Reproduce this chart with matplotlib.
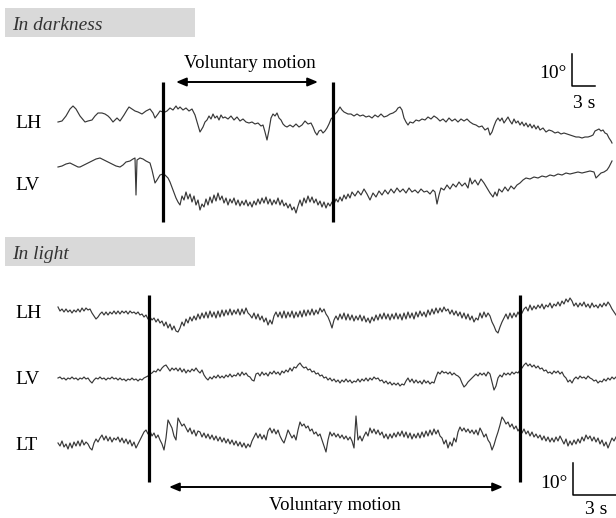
import numpy as np
import matplotlib.pyplot as plt

plt.rcParams['font.family'] = ['Liberation Serif', 'DejaVu Serif']

# ---- data: eye position traces (units: 3 units = 1 deg, time units ~ 0.13 s) ----
# darkness recording, (time, position) pairs, position positive = up
dark_lh = [(0, 0), (4, 1), (8, 6), (12, 13), (15, 16), (18, 13), (22, 6), (27, 0), (30, 1), (34, 2),
           (37, 6), (40, 9), (44, 9), (47, 8), (50, 6), (52, 4), (55, 0), (57, 2), (59, 4), (62, 1),
           (66, 7), (69, 12), (71, 15), (74, 13), (77, 11), (80, 10), (84, 8), (88, 11), (92, 13), (95, 9),
           (97, 4), (100, 8), (102, 11), (105, 10), (107, 10), (109, 11), (112, 14), (115, 12), (118, 16), (120, 13),
           (122, 15), (125, 12), (128, 14), (131, 11), (134, 13), (137, 7), (140, -3), (142, -10), (145, -5), (147, 0),
           (149, 2), (151, 6), (153, 3), (155, 8), (157, 4), (159, 6), (161, 2), (163, 7), (165, 4), (167, 5),
           (170, 3), (173, 6), (176, 2), (179, 5), (182, 1), (185, 3), (188, 0), (191, -1), (194, 0), (197, -2),
           (200, -1), (203, -4), (205, -3), (207, -10), (209, -18), (211, -8), (213, 4), (215, 8), (217, 6), (219, 9),
           (221, 4), (223, 2), (225, -2), (227, -4), (229, -5), (232, -3), (235, -5), (238, -2), (241, -5), (244, -3),
           (247, 1), (250, -2), (253, -1), (255, -5), (257, -10), (259, -13), (261, -9), (263, -8), (265, -11), (267, -9),
           (269, -6), (271, -2), (273, 3), (275, 5), (277, 8), (279, 10), (282, 15), (284, 12), (286, 10), (288, 9),
           (290, 8), (293, 8), (296, 6), (299, 8), (302, 6), (305, 7), (308, 5), (311, 6), (314, 4), (317, 7),
           (320, 5), (323, 8), (326, 5), (329, 6), (332, 8), (335, 9), (338, 11), (340, 14), (342, 15), (344, 12),
           (346, 4), (348, 0), (350, -3), (352, 0), (355, -1), (358, 2), (361, 1), (364, 3), (367, 2), (370, 5),
           (373, 3), (376, 6), (379, 4), (382, 1), (385, 3), (388, 0), (391, 4), (394, 1), (397, 3), (400, 0),
           (403, 3), (406, 1), (409, 3), (412, 0), (415, -2), (418, -3), (421, -5), (424, -4), (427, -8), (430, -6),
           (432, -13), (434, -10), (436, -4), (438, 1), (440, 4), (442, 1), (444, 4), (446, -1), (448, 2), (450, 5),
           (452, 1), (454, -2), (456, 3), (458, -1), (460, 1), (462, -3), (464, 0), (466, -4), (468, -1), (470, -5),
           (472, -2), (474, -6), (476, -3), (478, -7), (480, -4), (482, -8), (485, -6), (488, -10), (491, -8), (494, -9),
           (497, -11), (500, -10), (503, -12), (506, -11), (509, -12), (512, -13), (515, -14), (518, -15), (521, -15), (524, -16),
           (527, -15), (530, -15), (533, -14), (535, -13), (537, -9), (539, -8), (541, -7), (543, -9), (545, -8), (547, -11),
           (549, -12), (551, -16), (553, -19), (554, -21)]

dark_lv = [(0, 0), (4, 1), (8, 3), (12, 4), (16, 2), (20, 0), (22, 0), (26, 2), (30, 4), (34, 6),
           (38, 8), (42, 9), (46, 7), (50, 5), (54, 3), (58, 1), (62, 0), (65, 2), (68, 5), (72, 6),
           (75, 8), (77, 9), (78, -28), (79, 7), (82, 9), (85, 8), (88, 6), (92, 4), (94, -3), (97, -16),
           (99, -13), (102, -8), (105, -7), (107, -8), (110, -11), (112, -15), (115, -23), (118, -31), (120, -35), (122, -38),
           (124, -29), (126, -33), (128, -25), (130, -32), (132, -27), (134, -35), (136, -29), (138, -38), (140, -33), (142, -43),
           (144, -37), (146, -40), (148, -32), (150, -38), (152, -30), (154, -36), (156, -28), (158, -34), (160, -26), (162, -33),
           (164, -29), (166, -36), (168, -31), (170, -38), (172, -32), (174, -36), (176, -31), (178, -38), (180, -33), (182, -39),
           (184, -34), (186, -38), (188, -33), (190, -39), (192, -35), (194, -40), (196, -34), (198, -38), (200, -32), (202, -37),
           (204, -31), (206, -36), (208, -30), (210, -37), (212, -32), (214, -38), (216, -33), (218, -37), (220, -31), (222, -38),
           (224, -33), (226, -39), (228, -36), (230, -41), (232, -37), (234, -43), (236, -40), (238, -46), (240, -39), (242, -33),
           (244, -39), (246, -31), (248, -36), (250, -29), (252, -35), (254, -30), (256, -36), (258, -32), (260, -38), (262, -34),
           (264, -40), (266, -35), (268, -41), (270, -36), (272, -39), (274, -35), (276, -37), (278, -32), (280, -35), (282, -30),
           (284, -34), (286, -28), (288, -32), (290, -27), (292, -31), (294, -25), (297, -29), (300, -24), (303, -28), (306, -22),
           (309, -27), (312, -33), (315, -26), (318, -30), (321, -24), (324, -28), (327, -23), (330, -27), (333, -22), (336, -26),
           (339, -21), (342, -25), (345, -22), (348, -26), (351, -21), (354, -25), (357, -23), (360, -26), (363, -22), (366, -25),
           (369, -24), (372, -27), (375, -23), (377, -25), (379, -37), (381, -28), (383, -21), (386, -23), (389, -18), (392, -22),
           (395, -17), (398, -20), (401, -15), (404, -19), (407, -16), (410, -21), (412, -11), (414, -17), (417, -13), (420, -18),
           (423, -12), (426, -16), (429, -21), (432, -26), (435, -30), (437, -25), (439, -29), (441, -22), (444, -25), (447, -20),
           (450, -24), (453, -19), (456, -22), (459, -18), (462, -16), (465, -13), (468, -11), (472, -12), (476, -10), (480, -11),
           (484, -9), (488, -10), (492, -8), (496, -9), (500, -7), (504, -8), (508, -6), (512, -7), (516, -6), (520, -5),
           (524, -6), (528, -5), (532, -4), (536, -5), (538, -11), (540, -9), (543, -6), (546, -5), (549, -3), (551, 0),
           (553, 4), (554, 6)]

# light recording, one sample every 2 time units
light_lh = [8, 4, 6, 3, 6, 3, 5, 2, 5, 3, 6, 3, 7, 4, 7, 5, 6, 2, -1, -4,
            -2, 1, 3, 0, 3, 0, 3, 1, 4, 1, 4, 1, 4, 2, 4, 1, 4, 2, 3, 1,
            3, 0, 1, -2, 0, -4, -2, -5, -3, -7, -4, -8, -6, -11, -7, -13, -9, -15, -11, -16,
            -17, -13, -7, -11, -4, -8, -2, -6, -1, -5, 1, -4, 2, -3, 3, -3, 4, -2, 3, -3,
            4, -2, 5, -1, 5, 0, 6, 0, 5, 1, 6, 0, 6, 1, 7, 2, 0, -3, 2, -4,
            1, -5, -1, -7, -3, -10, -5, -9, -1, 3, -2, 3, -3, 4, -3, 3, -2, 4, -3, 3,
            -2, 4, -2, 5, -1, 5, 0, 6, 0, 5, 1, 7, 3, 6, 1, -2, -7, -13, -5, -1,
            -5, 1, -4, 2, -5, 1, -5, 0, -6, -1, -5, 0, -6, -1, -7, -3, -8, -2, -6, 0,
            -5, 1, -4, 2, -4, 1, -5, 1, -4, 2, -4, 1, -5, 2, -4, 3, -3, 2, -4, 3,
            -2, 4, -1, 3, -2, 5, 0, 6, 1, 7, 2, 7, 3, 8, 4, 6, 1, 5, 0, 4,
            -1, 3, -3, 2, -4, 1, -5, -1, -7, -3, -5, 2, -3, 3, -2, 2, -1, -7, -11, -16,
            -18, -12, -7, -3, 1, -4, 2, -3, 2, -2, 3, -1, 2, 6, 8, 4, 10, 5, 9, 6,
            10, 7, 11, 6, 10, 8, 12, 7, 11, 9, 13, 9, 14, 11, 16, 13, 17, 14, 9, 12,
            8, 12, 9, 13, 8, 11, 7, 12, 8, 10, 7, 11, 8, 12, 9, 13, 10, 6, 3, 0]

light_lv = [0, 1, -1, 0, -2, 0, -1, 1, -1, 0, -2, 0, -1, 1, -1, 0, -3, -5, -2, 0,
            -1, 1, -1, 0, -2, 0, -1, 1, -1, 0, -2, 0, -2, -1, -3, -1, -2, 0, -2, -1,
            -3, -1, -2, 0, 1, 2, 4, 5, 7, 6, 9, 7, 10, 12, 13, 10, 7, 10, 8, 10,
            7, 10, 6, 9, 5, 8, 6, 9, 7, 10, 7, 5, 8, 3, 0, -2, 1, -1, 2, 0,
            3, 0, 2, 0, 3, 1, 4, 1, 3, 2, 5, 2, 6, 3, 5, 2, 1, -2, -3, 4,
            5, 2, 6, 3, 5, 2, 6, 4, 7, 4, 6, 3, 7, 5, 8, 6, 10, 7, 11, 10,
            13, 15, 12, 10, 11, 8, 9, 6, 7, 4, 5, 2, 3, 0, 1, -2, 0, -3, -1, -4,
            -2, -5, -2, -4, -1, -4, -2, -5, -3, -4, -1, -4, -1, -3, 0, -3, 0, -2, 1, -1,
            0, -3, -2, -5, -3, -6, -4, -7, -5, -7, -5, -8, -6, -7, -3, 0, -4, -1, -5, -2,
            -5, -3, -6, -2, -5, -3, -6, -4, -5, 1, 6, 4, 7, 5, 6, 4, 6, 3, 5, 3,
            2, 0, -5, -9, -7, -4, -2, 0, 2, 4, 2, 5, 3, 5, 2, 6, 4, -4, -12, -8,
            0, 3, 1, 5, 3, 5, 3, 6, 4, 6, 5, 8, 10, 13, 15, 12, 14, 11, 13, 10,
            12, 9, 10, 7, 8, 5, 6, 4, 7, 5, 7, 4, 6, 2, 0, -4, -2, -5, -1, 1,
            -1, 2, 0, 1, -1, 2, 0, -1, -3, -2, -5, -3, -4, -1, -3, 0, -2, 1, -1, 1]

light_lt = [-1, -4, 1, -5, -2, -7, -1, -6, 0, -4, 1, -4, 2, -3, 0, -2, -6, -8, -1, 3,
            0, 4, 7, 2, 6, 1, 5, 0, 4, 2, 5, 0, 4, -1, 3, -2, 2, -4, 0, -6,
            -2, 2, 6, 10, 12, 8, 11, 6, 9, 4, 7, 2, -2, -8, 4, 22, 18, 14, 6, 2,
            24, 20, 16, 18, 14, 10, 14, 8, 12, 6, 11, 10, 5, 9, 4, 8, 3, 7, 2, 6,
            1, 5, 0, 4, -1, 3, -2, 2, -3, 1, -4, 0, -5, -1, -6, -2, -5, 1, 5, 9,
            4, 8, 3, 7, 2, 11, 14, 9, 13, 8, 12, 6, 2, -1, 5, 12, 8, 4, 7, 2,
            12, 20, 16, 18, 14, 16, 11, 13, 8, 10, 6, 8, 2, -4, -10, 2, 10, 6, 9, 5,
            8, 4, 7, 3, 6, 2, 5, 1, -6, 26, 2, 6, 1, 6, 10, 6, 14, 9, 13, 8,
            12, 7, 10, 4, 8, 3, 8, 4, 9, 5, 10, 6, 11, 5, 10, 4, 9, 3, 8, 4,
            9, 4, 10, 5, 11, 6, 12, 7, 13, 8, 12, 6, 4, -2, 2, -6, 0, -4, 4, 0,
            10, 15, 11, 14, 10, 13, 9, 12, 8, 12, 7, 14, 10, 5, 8, 2, -1, -8, -3, 4,
            10, 17, 25, 22, 18, 20, 15, 18, 13, 16, 11, 14, 9, 13, 8, 11, 6, 10, 5, 8,
            4, 7, 2, 6, 1, 5, 0, 4, 0, 5, 1, 6, 2, -2, 3, -4, 1, -3, 2, -2,
            3, -1, 5, 1, 7, 3, 6, 1, 5, 0, 4, -2, 2, -4, 0, -6, -1, 4, 1, 5]

labels_dark = ['LH', 'LV']
labels_light = ['LH', 'LV', 'LT']

# ---- layout (figure pixels) ----
fig = plt.figure(figsize=(6.16, 5.18), dpi=100)
ax = fig.add_axes([0, 0, 1, 1])
ax.set_xlim(0, 616)
ax.set_ylim(518, 0)
ax.axis('off')

trace_kw = dict(color='#383838', lw=0.85)
x0 = 58


def draw_pairs(pairs, base):
    t, v = np.array(pairs, dtype=float).T
    ax.plot(x0 + t, base - v, **trace_kw)


def draw_uniform(vals, base, dt=2):
    v = np.array(vals, dtype=float)
    t = np.arange(len(v)) * dt
    ax.plot(x0 + t, base - v, **trace_kw)


# section headers
for y_top, title in [(8, 'In darkness'), (237, 'In light')]:
    ax.add_patch(plt.Rectangle((5, y_top), 190, 29, color='#d9d9d9', lw=0))
    ax.text(12, y_top + 22, title, fontsize=14, style='italic', color='#333333', va='baseline')

# darkness panel
draw_pairs(dark_lh, 122)
draw_pairs(dark_lv, 167)
for lab, yb in zip(labels_dark, [128, 190]):
    ax.text(15, yb, lab, fontsize=14, va='baseline')
for xv in [163, 333]:
    ax.plot([xv, xv], [82, 222], color='black', lw=2.3, solid_capstyle='butt')
ax.annotate('', xy=(176, 82), xytext=(318, 82),
            arrowprops=dict(arrowstyle='<|-|>,head_length=0.6,head_width=0.25',
                            color='black', lw=1.4, shrinkA=0, shrinkB=0))
ax.text(250, 68, 'Voluntary motion', fontsize=13.5, ha='center', va='baseline')

# light panel
draw_uniform(light_lh, 315)
draw_uniform(light_lv, 378)
draw_uniform(light_lt, 442)
for lab, yb in zip(labels_light, [318, 384, 450]):
    ax.text(15, yb, lab, fontsize=14, va='baseline')
for xv in [149, 520]:
    ax.plot([xv, xv], [295, 482], color='black', lw=2.3, solid_capstyle='butt')
ax.annotate('', xy=(169, 487), xytext=(503, 487),
            arrowprops=dict(arrowstyle='<|-|>,head_length=0.6,head_width=0.25',
                            color='black', lw=1.4, shrinkA=0, shrinkB=0))
ax.text(335, 510, 'Voluntary motion', fontsize=13.5, ha='center', va='baseline')

# scale bars: 10 deg / 3 s
ax.plot([572, 572, 595], [54, 86, 86], color='black', lw=1.1)
ax.text(567, 78, '10°', fontsize=14, ha='right', va='baseline')
ax.text(584, 108, '3 s', fontsize=14, ha='center', va='baseline')

ax.plot([573, 573, 616], [463, 495, 495], color='black', lw=1.1)
ax.text(568, 488, '10°', fontsize=14, ha='right', va='baseline')
ax.text(596, 514, '3 s', fontsize=14, ha='center', va='baseline')

fig.savefig('out.png', dpi=100)
